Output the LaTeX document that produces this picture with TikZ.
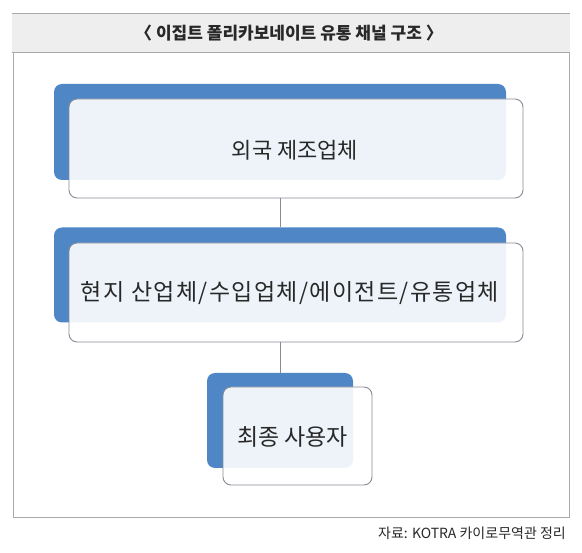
\documentclass[tikz,border=0pt]{standalone}
\usepackage{fontspec}
\setmainfont{Noto Sans CJK KR}
\definecolor{backblue}{RGB}{79,134,198}
\definecolor{framegray}{RGB}{170,170,170}
\definecolor{bandgray}{RGB}{238,238,238}
\definecolor{boxline}{RGB}{135,140,148}
\definecolor{txt}{RGB}{40,40,40}
\begin{document}
\begin{tikzpicture}[x=1pt,y=-1pt,
  backbox/.style={draw=none,fill=backblue,rounded corners=8pt,inner sep=0pt},
  frontbox/.style={draw=boxline,line width=0.9pt,fill=white,fill opacity=0.9,text opacity=1,rounded corners=8pt,inner sep=0pt},
  boxtext/.style={text=txt,inner sep=0pt,font=\fontsize{23}{26}\selectfont},
  conn/.style={draw=boxline,line width=0.9pt}]
\useasboundingbox (0,0) rectangle (582,553);
\fill[white] (0,0) rectangle (582,553);
% header band
\fill[bandgray] (12,14) rectangle (570,53);
\draw[framegray,line width=1pt] (12,14) -- (570,14);
\draw[framegray,line width=1pt] (12,53) -- (570,53);
\draw[framegray,line width=1pt] (13,53) -- (13,518) -- (569,518) -- (569,53);
\node[text=txt,font=\fontsize{17}{20}\selectfont\bfseries] (title) at (289,33.5) {〈 이집트 폴리카보네이트 유통 채널 구조 〉};
% boxes
\node[backbox,minimum width=452pt,minimum height=96pt] (b1back) at (280,132) {};
\node[frontbox,minimum width=454pt,minimum height=99pt] (b1) at (296,148.5) {};
\node[boxtext,font=\fontsize{22}{25}\selectfont] (t1) at (295,150) {외국 제조업체};
\node[backbox,minimum width=452pt,minimum height=95pt] (b2back) at (280,275) {};
\node[frontbox,minimum width=454pt,minimum height=99pt] (b2) at (296,292.5) {};
\node[boxtext,font=\fontsize{23}{26}\selectfont\addfontfeature{LetterSpace=6}] (t2) at (290,293) {현지 산업체/수입업체/에이전트/유통업체};
\node[backbox,minimum width=146pt,minimum height=95pt] (b3back) at (280,420.5) {};
\node[frontbox,minimum width=149pt,minimum height=98pt] (b3) at (297.5,436) {};
\node[boxtext] (t3) at (292.5,437) {최종 사용자};
% connectors
\draw[conn] (b1back.center |- b1.south) -- (b2back.north);
\draw[conn] (b2back.center |- b2.south) -- (b3back.north);
% footer
\node[anchor=east,text=txt,font=\fontsize{14}{16}\selectfont,inner sep=0pt] (src) at (566,533) {자료: KOTRA 카이로무역관 정리};
\end{tikzpicture}
\end{document}
